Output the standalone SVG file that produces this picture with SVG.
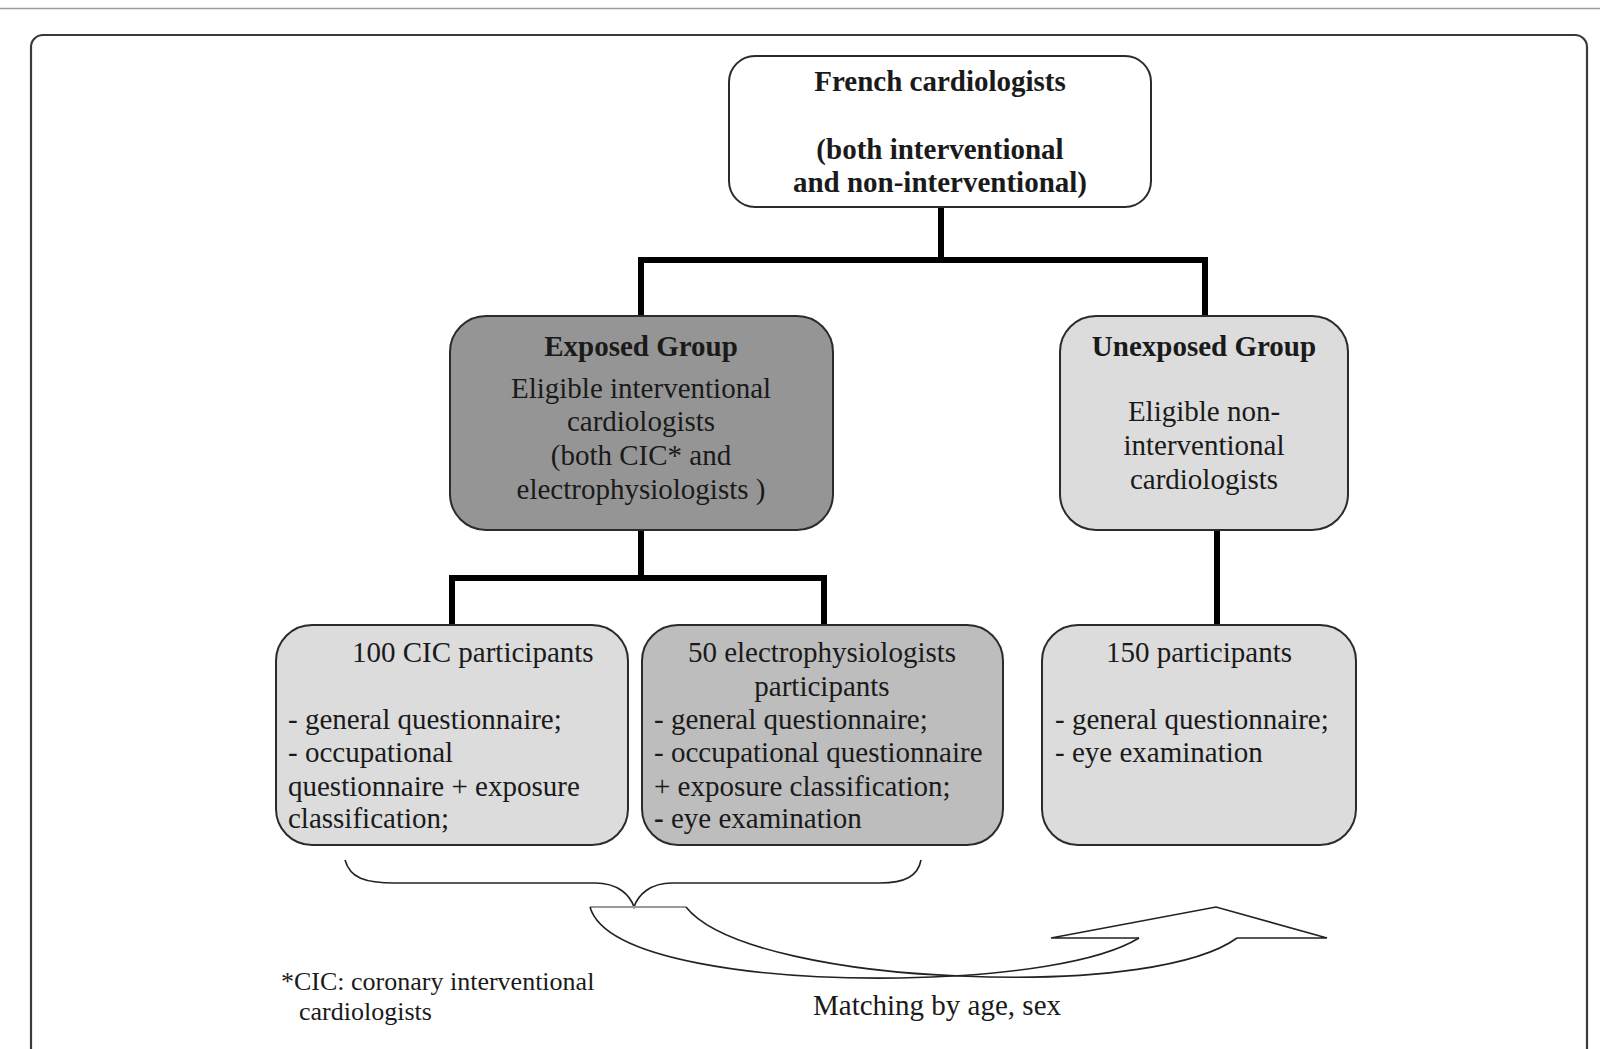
<svg xmlns="http://www.w3.org/2000/svg" width="1600" height="1049" viewBox="0 0 1600 1049">
<style>
text{font-family:"Liberation Serif","Times New Roman",serif;font-size:29px;fill:#1a1a1a}
.b{font-weight:bold}
.c{text-anchor:middle}
.box{stroke:#2b2b2b;stroke-width:2}
.conn{stroke:#000;stroke-width:6;fill:none;stroke-linecap:butt}
.thin{stroke:#222;stroke-width:1.6;fill:none}
</style>
<rect x="0" y="0" width="1600" height="1049" fill="#fff"/>
<line x1="0" y1="8.5" x2="1600" y2="8.5" stroke="#9a9a9a" stroke-width="1.5"/>
<rect x="31" y="35" width="1556" height="1060" rx="12" fill="none" stroke="#3a3a3a" stroke-width="2.2"/>

<g id="connectors">
  <path class="conn" d="M941,207 V260 M641,260 H1205 M641,257 V316 M1205,257 V316"/>
  <path class="conn" d="M641,530 V578 M452,578 H824 M452,575 V625 M824,575 V625"/>
  <path class="conn" d="M1217,530 V625"/>
</g>

<g id="french">
  <rect class="box" x="729" y="56" width="422" height="151" rx="26" fill="#fff"/>
  <text class="b c" x="940" y="91">French cardiologists</text>
  <text class="b c" x="940" y="159">(both interventional</text>
  <text class="b c" x="940" y="192">and non-interventional)</text>
</g>

<g id="exposed">
  <rect class="box" x="450" y="316" width="383" height="214" rx="36" fill="#959595"/>
  <text class="b c" x="641" y="356">Exposed Group</text>
  <text class="c" x="641" y="398">Eligible interventional</text>
  <text class="c" x="641" y="431">cardiologists</text>
  <text class="c" x="641" y="465">(both CIC* and</text>
  <text class="c" x="641" y="499">electrophysiologists )</text>
</g>

<g id="unexposed">
  <rect class="box" x="1060" y="316" width="288" height="214" rx="36" fill="#dcdcdc"/>
  <text class="b c" x="1204" y="356">Unexposed Group</text>
  <text class="c" x="1204" y="421">Eligible non-</text>
  <text class="c" x="1204" y="455">interventional</text>
  <text class="c" x="1204" y="489">cardiologists</text>
</g>

<g id="cic">
  <rect class="box" x="276" y="625" width="352" height="220" rx="36" fill="#dcdcdc"/>
  <text x="352" y="662">100 CIC participants</text>
  <text x="288" y="729">- general questionnaire;</text>
  <text x="288" y="762">- occupational</text>
  <text x="288" y="796">questionnaire + exposure</text>
  <text x="288" y="828">classification;</text>
</g>

<g id="electro">
  <rect class="box" x="642" y="625" width="361" height="220" rx="36" fill="#bdbdbd"/>
  <text class="c" x="822" y="662">50 electrophysiologists</text>
  <text class="c" x="822" y="696">participants</text>
  <text x="654" y="729">- general questionnaire;</text>
  <text x="654" y="762">- occupational questionnaire</text>
  <text x="654" y="796">+ exposure classification;</text>
  <text x="654" y="828"><tspan class="b">-</tspan> eye examination</text>
</g>

<g id="unexposed150">
  <rect class="box" x="1042" y="625" width="314" height="220" rx="36" fill="#dcdcdc"/>
  <text class="c" x="1199" y="662">150 participants</text>
  <text x="1055" y="729">- general questionnaire;</text>
  <text x="1055" y="762">- eye examination</text>
</g>

<g id="matching">
  <path class="thin" d="M345,860 C350,878 365,883 395,883 H595 C618,883 630,895 634,907 C638,895 650,883 672,883 H880 C905,883 918,876 921,860"/>
  <line x1="590" y1="907" x2="686" y2="907" stroke="#999" stroke-width="2"/>
  <path class="thin" d="M590,907 C605,960 760,980 900,978 C1010,976 1100,962 1139,938"/>
  <path class="thin" d="M686,907 C720,950 850,972 960,976 C1100,982 1200,965 1237,938"/>
  <path class="thin" d="M1139,938 L1051,938 L1216,907 L1327,938 L1237,938"/>
  <text class="c" x="937" y="1015">Matching by age, sex</text>
</g>

<g id="footnote">
  <text x="281" y="990" style="font-size:26px">*CIC: coronary interventional</text>
  <text x="299" y="1020" style="font-size:26px">cardiologists</text>
</g>
</svg>
